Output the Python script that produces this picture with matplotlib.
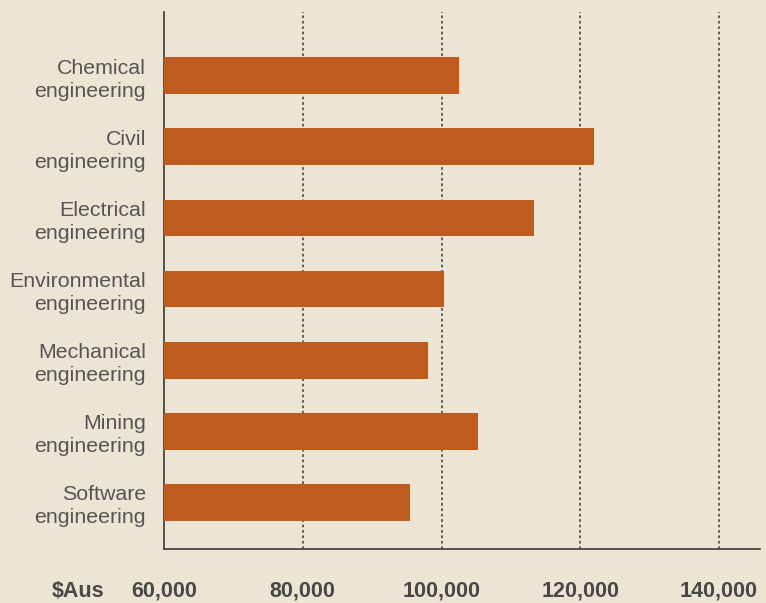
import matplotlib
matplotlib.use("Agg")
import matplotlib.pyplot as plt

categories = [
    "Chemical\nengineering",
    "Civil\nengineering",
    "Electrical\nengineering",
    "Environmental\nengineering",
    "Mechanical\nengineering",
    "Mining\nengineering",
    "Software\nengineering",
]
salaries = [102500, 122000, 113300, 100400, 98000, 105200, 95500]
tick_values = [60000, 80000, 100000, 120000, 140000]
tick_labels = ["60,000", "80,000", "100,000", "120,000", "140,000"]
currency_label = "$Aus"

bg = "#ede5d3"
bar_color = "#bf5b1f"
text_color = "#484848"

fig = plt.figure(figsize=(7.66, 6.03), dpi=100, facecolor=bg)
ax = fig.add_axes([164 / 766, 1 - 549 / 603, (760 - 164) / 766, (549 - 12) / 603])
ax.set_facecolor(bg)

ypos = list(range(len(categories)))
ax.barh(ypos, salaries, height=0.52, color=bar_color, zorder=3)

ax.set_xlim(60000, 145900)
ax.set_ylim(6.66, -0.9)

for v in tick_values[1:]:
    ax.axvline(v, color="#555555", linestyle=(0, (1.5, 1.5)), linewidth=1.3, zorder=1)

ax.set_yticks(ypos)
ax.set_yticklabels(categories, fontsize=15.4, color="#555555",
                   family="Liberation Sans", linespacing=1.25)
ax.tick_params(axis="y", length=0, pad=13)

ax.set_xticks(tick_values)
ax.set_xticklabels(tick_labels, fontsize=15.5, color=text_color,
                   family="Liberation Sans", fontweight="bold")
ax.tick_params(axis="x", length=0, pad=23)

for s in ["top", "right"]:
    ax.spines[s].set_visible(False)
for s in ["left", "bottom"]:
    ax.spines[s].set_color("#3a3a3a")
    ax.spines[s].set_linewidth(1.2)

fig.canvas.draw()
bb = ax.get_xticklabels()[0].get_window_extent()
fig.text(52 / 766, (bb.y0 + bb.y1) / 2 / fig.bbox.height, currency_label,
         fontsize=15.5, color=text_color, family="Liberation Sans",
         fontweight="bold", ha="left", va="center")

fig.savefig("out.png", dpi=100, facecolor=bg)
